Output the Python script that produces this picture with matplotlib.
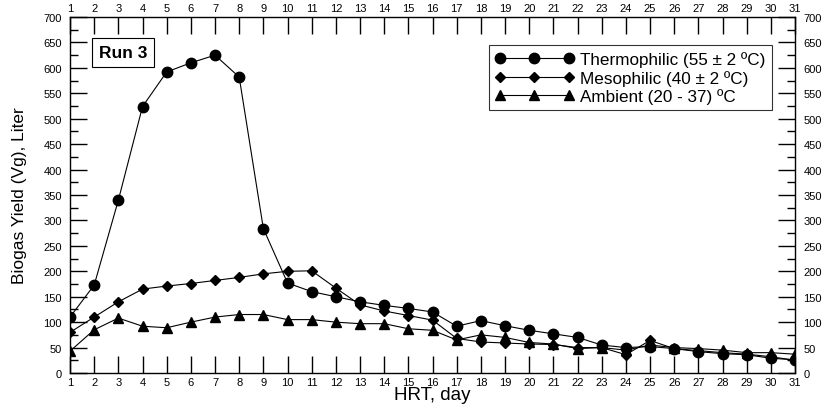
import numpy as np
import matplotlib
matplotlib.use("Agg")
import matplotlib.pyplot as plt
from matplotlib.ticker import MultipleLocator

plt.rcParams['font.family'] = ['Liberation Sans', 'DejaVu Sans']

# HRT days and biogas yield (Liter) for each temperature condition
days = np.arange(1, 32)
thermophilic = [110, 173, 340, 524, 592, 610, 625, 582, 284, 177, 160, 150, 140, 133, 127, 120,
                92, 103, 93, 84, 77, 70, 55, 50, 52, 48, 42, 38, 36, 29, 26]
mesophilic = [80, 110, 140, 165, 171, 176, 182, 188, 195, 200, 201, 167, 134, 122, 113, 104,
              68, 61, 59, 57, 56, 50, 50, 36, 64, 48, 44, 40, 37, 32, 25]
ambient = [43, 85, 108, 92, 89, 100, 110, 115, 115, 105, 105, 100, 97, 97, 87, 84,
           65, 75, 70, 60, 57, 48, 50, 45, 55, 50, 48, 45, 40, 40, 37]

labels = ['Thermophilic (55 ± 2 ºC)', 'Mesophilic (40 ± 2 ºC)', 'Ambient (20 - 37) ºC']

fig = plt.figure(figsize=(8.23, 4.10), dpi=100)
ax = fig.add_axes([0.0851, 0.0878, 0.8809, 0.8682])

ax.plot(days, thermophilic, 'k-', marker='o', ms=7.5, lw=0.8, label=labels[0])
ax.plot(days, mesophilic, 'k-', marker='D', ms=5.5, lw=0.8, label=labels[1])
ax.plot(days, ambient, 'k-', marker='^', ms=7, lw=0.8, label=labels[2])

ax.set_xlim(1, 31)
ax.set_ylim(0, 700)
ax.xaxis.set_major_locator(MultipleLocator(1))
ax.yaxis.set_major_locator(MultipleLocator(50))
ax.yaxis.set_minor_locator(MultipleLocator(25))
ax.tick_params(axis='both', which='major', direction='in', length=12, width=1,
               labelsize=8, top=True, right=True, labeltop=True, labelright=True)
ax.tick_params(axis='y', which='major', pad=6)
ax.tick_params(axis='x', which='major', pad=3)
ax.tick_params(axis='y', which='minor', direction='in', length=6, width=1,
               left=True, right=True)
for s in ax.spines.values():
    s.set_linewidth(1)

ax.set_xlabel('HRT, day', fontsize=13.5, labelpad=-1)
ax.set_ylabel('Biogas Yield (Vg), Liter', fontsize=12.5, labelpad=12)

ax.text(0.04, 0.9, 'Run 3', transform=ax.transAxes, fontsize=12.5, fontweight='bold',
        va='center', ha='left',
        bbox=dict(boxstyle='square,pad=0.4', fc='white', ec='black', lw=0.8))

leg = ax.legend(loc='upper right', bbox_to_anchor=(0.968, 0.921), numpoints=3,
                fontsize=12.3, frameon=True, fancybox=False, edgecolor='black',
                handlelength=4.6, handletextpad=0.4, borderpad=0.35, labelspacing=0.15,
                borderaxespad=0)
leg.get_frame().set_linewidth(0.8)

fig.savefig('out.png', dpi=100)
